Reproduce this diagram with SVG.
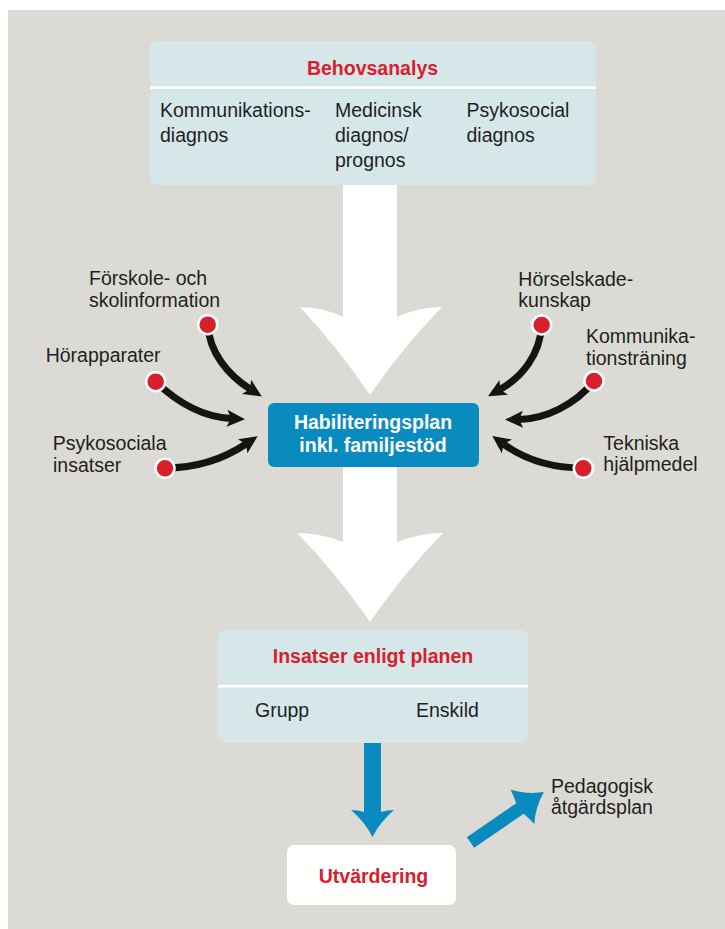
<svg xmlns="http://www.w3.org/2000/svg" width="725" height="929" viewBox="0 0 725 929">
<defs>
<style>
text{font-family:"Liberation Sans",Arial,Helvetica,sans-serif;}
.lbl{font-size:19.5px;fill:#1f1f1f;}
.ttl{font-size:19.5px;font-weight:bold;fill:#d7202c;text-anchor:middle;}
.wht{font-size:19.5px;font-weight:bold;fill:#ffffff;text-anchor:middle;}
.box{fill:#d6e7ea;}
.div{fill:#ffffff;}
.curve{fill:none;stroke:#141414;stroke-width:7;marker-end:url(#head);}
.dot{fill:#d7202c;stroke:#ffffff;stroke-width:2.5;}
.big{fill:#ffffff;}
.blue{fill:#0a8bbf;}
</style>
<marker id="head" markerUnits="userSpaceOnUse" viewBox="-5 -10 20 20" refX="0" refY="0" markerWidth="20" markerHeight="20" orient="auto">
<path d="M-4,-8.5 L14,0 L-4,8.5 L0,0 Z" fill="#141414"/>
</marker>
</defs>
<rect x="8" y="10" width="717" height="919" fill="#dbdad5"/>

<g id="connectors">
<path class="big" d="M343,184 L397,184 L397,317 Q419,307 442,307 Q402,348 370,395 Q338,348 300,307 Q323,307 343,317 Z"/>
<path class="big" d="M343,466 L397,466 L397,542 Q420,533 443,533 Q403,574 370,622 Q337,574 297,533 Q320,533 343,542 Z"/>
<path class="blue" d="M364,743 L381,743 L381,812 Q387,810 394,810 Q380,822 372.5,837 Q365,822 351,810 Q358,810 364,812 Z"/>
<path class="blue" transform="translate(470.5,842.5) rotate(-34.5)" d="M0,-6.5 L60,-6.5 Q62,-14 63,-21 Q73,-8 89,0 Q73,8 63,21 Q62,14 60,6.5 L0,6.5 Z"/>
<path class="curve" d="M208,325 C209,352 228,375 250,389"/>
<path class="curve" d="M156,382 C180,405 205,417 231,418.5"/>
<path class="curve" d="M165,468 C200,468 225,458 246,444"/>
<path class="curve" d="M541.7,325 C540,355 522,377 500.2,389.4"/>
<path class="curve" d="M594,381 C575,405 545,419 519,419.4"/>
<path class="curve" d="M583,468 C545,468 520,456 503.6,444.1"/>
</g>

<g id="behovsanalys">
<rect class="box" x="150" y="41" width="446" height="144" rx="7"/>
<rect class="div" x="150" y="86.3" width="446" height="2.7"/>
<text class="ttl" x="372.5" y="75">Behovsanalys</text>
<text class="lbl" x="160" y="117">Kommunikations-</text>
<text class="lbl" x="160" y="142">diagnos</text>
<text class="lbl" x="335" y="117">Medicinsk</text>
<text class="lbl" x="335" y="142">diagnos/</text>
<text class="lbl" x="335" y="167">prognos</text>
<text class="lbl" x="466.5" y="117">Psykosocial</text>
<text class="lbl" x="466.5" y="142">diagnos</text>
</g>

<g id="habiliteringsplan">
<rect x="268" y="403" width="211" height="64" rx="6" fill="#0a8bbf"/>
<text class="wht" x="373" y="429">Habiliteringsplan</text>
<text class="wht" x="373" y="452">inkl. familjestöd</text>
</g>

<g id="forskole">
<text class="lbl" x="89" y="285">Förskole- och</text>
<text class="lbl" x="89" y="307">skolinformation</text>
<circle class="dot" cx="207.7" cy="324.7" r="9.5"/>
</g>
<g id="horapparater">
<text class="lbl" x="45.7" y="361.5">Hörapparater</text>
<circle class="dot" cx="155.7" cy="381.7" r="9.5"/>
</g>
<g id="psykosociala">
<text class="lbl" x="52.7" y="450">Psykosociala</text>
<text class="lbl" x="53" y="471.5">insatser</text>
<circle class="dot" cx="165" cy="468.3" r="9.5"/>
</g>
<g id="horselskade">
<text class="lbl" x="518.3" y="286">Hörselskade-</text>
<text class="lbl" x="518.3" y="307">kunskap</text>
<circle class="dot" cx="541.7" cy="325" r="9.5"/>
</g>
<g id="kommunikation">
<text class="lbl" x="586" y="343.3">Kommunika-</text>
<text class="lbl" x="586" y="365">tionsträning</text>
<circle class="dot" cx="594" cy="381" r="9.5"/>
</g>
<g id="tekniska">
<text class="lbl" x="603.3" y="450">Tekniska</text>
<text class="lbl" x="603.3" y="470.5">hjälpmedel</text>
<circle class="dot" cx="583.3" cy="468.3" r="9.5"/>
</g>

<g id="insatser">
<rect class="box" x="218" y="630" width="310" height="113" rx="7"/>
<rect class="div" x="218" y="684.8" width="310" height="2.7"/>
<text class="ttl" x="373" y="663.3">Insatser enligt planen</text>
<text class="lbl" x="255" y="717">Grupp</text>
<text class="lbl" x="416" y="717">Enskild</text>
</g>

<g id="utvardering">
<rect x="287" y="845" width="169" height="60" rx="7" fill="#ffffff"/>
<text class="ttl" x="373.5" y="883.3">Utvärdering</text>
</g>

<g id="pedagogisk">
<text class="lbl" x="551" y="793">Pedagogisk</text>
<text class="lbl" x="551" y="814">åtgärdsplan</text>
</g>
</svg>
